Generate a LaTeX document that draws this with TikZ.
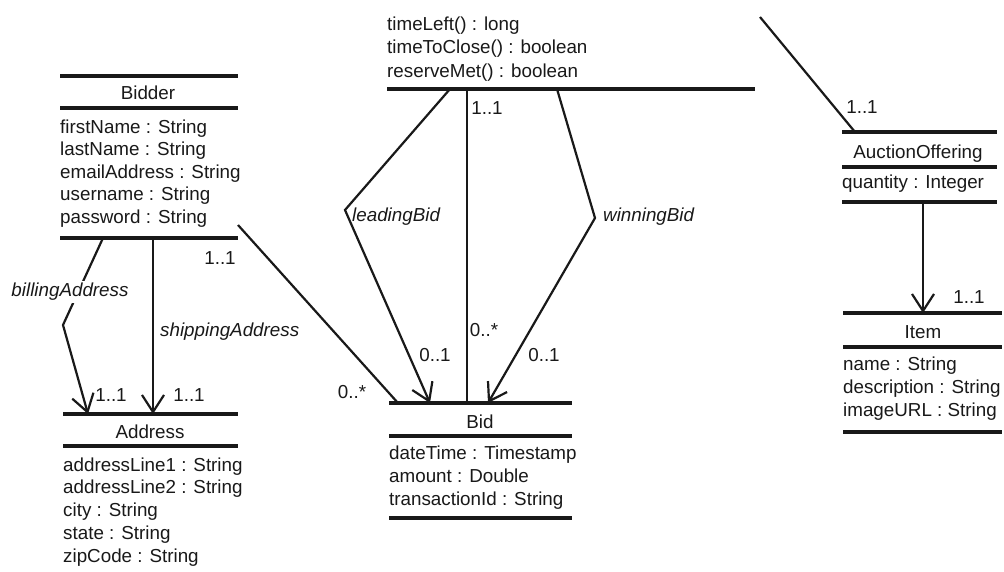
\documentclass[tikz,border=0pt]{standalone}
\usepackage{fontspec}
\setmainfont{Liberation Sans}
\usetikzlibrary{arrows.meta}
\newcommand\umlfont{\fontsize{18.8}{22}\selectfont}
\begin{document}
\begin{tikzpicture}[x=1pt,y=-1pt,
  bar/.style={line width=3.2pt,color=black!90},
  assoc/.style={line width=2.2pt,color=black!90,line join=miter},
  nav/.style={assoc,-{Straight Barb[length=17pt,width=22pt]}},
  txt/.style={inner sep=0pt,font=\umlfont,text=black!90},
  attr/.style={txt,anchor=base west},
  cname/.style={txt,anchor=base},
  role/.style={txt,font=\umlfont\itshape},
  mult/.style={txt}]
\fill[white] (0,0) rectangle (1004,571);
\useasboundingbox (0,0) rectangle (1004,571);

% ---- Auction (operations compartment) ----
\node[attr] (opA) at (387,30) {timeLeft() : long};
\node[attr] (opB) at (387,53.5) {timeToClose() : boolean};
\node[attr] (opC) at (387,77) {reserveMet() : boolean};
\coordinate (auL) at (387,89);
\coordinate (auR) at (755,89);
\draw[bar] (auL) -- (auR);

% ---- Bidder ----
\coordinate (bdT1) at (60,76);  \coordinate (bdT2) at (238,76);
\coordinate (bdM1) at (60,108); \coordinate (bdM2) at (238,108);
\coordinate (bdB1) at (60,238); \coordinate (bdB2) at (238,238);
\draw[bar] (bdT1) -- (bdT2);
\draw[bar] (bdM1) -- (bdM2);
\draw[bar] (bdB1) -- (bdB2);
\node[cname] (bidder) at (148,99) {Bidder};
\node[attr] (bd1) at (60,133) {firstName : String};
\node[attr] (bd2) at (60,155.5) {lastName : String};
\node[attr] (bd3) at (60,178) {emailAddress : String};
\node[attr] (bd4) at (60,200.5) {username : String};
\node[attr] (bd5) at (60,223) {password : String};

% ---- Address ----
\coordinate (adT1) at (63,414); \coordinate (adT2) at (238,414);
\coordinate (adM1) at (63,446); \coordinate (adM2) at (238,446);
\draw[bar] (adT1) -- (adT2);
\draw[bar] (adM1) -- (adM2);
\node[cname] (address) at (150,438) {Address};
\node[attr] (ad1) at (63,471) {addressLine1 : String};
\node[attr] (ad2) at (63,493.75) {addressLine2 : String};
\node[attr] (ad3) at (63,516.5) {city : String};
\node[attr] (ad4) at (63,539.25) {state : String};
\node[attr] (ad5) at (63,562) {zipCode : String};

% ---- Bid ----
\coordinate (biT1) at (389,403); \coordinate (biT2) at (572,403);
\coordinate (biM1) at (389,436); \coordinate (biM2) at (572,436);
\coordinate (biB1) at (389,518); \coordinate (biB2) at (572,518);
\draw[bar] (biT1) -- (biT2);
\draw[bar] (biM1) -- (biM2);
\draw[bar] (biB1) -- (biB2);
\node[cname] (bid) at (480,428) {Bid};
\node[attr] (bi1) at (389,459) {dateTime : Timestamp};
\node[attr] (bi2) at (389,482) {amount : Double};
\node[attr] (bi3) at (389,505) {transactionId : String};

% ---- AuctionOffering ----
\coordinate (aoT1) at (842,132); \coordinate (aoT2) at (997,132);
\coordinate (aoM1) at (842,167); \coordinate (aoM2) at (997,167);
\coordinate (aoB1) at (842,202); \coordinate (aoB2) at (997,202);
\draw[bar] (aoT1) -- (aoT2);
\draw[bar] (aoM1) -- (aoM2);
\draw[bar] (aoB1) -- (aoB2);
\node[cname] (offering) at (918,158) {AuctionOffering};
\node[attr] (ao1) at (842,188) {quantity : Integer};

% ---- Item ----
\coordinate (itT1) at (843,313); \coordinate (itT2) at (1002,313);
\coordinate (itM1) at (843,347); \coordinate (itM2) at (1002,347);
\coordinate (itB1) at (843,432); \coordinate (itB2) at (1002,432);
\draw[bar] (itT1) -- (itT2);
\draw[bar] (itM1) -- (itM2);
\draw[bar] (itB1) -- (itB2);
\node[cname] (item) at (923,338) {Item};
\node[attr] (it1) at (843,370) {name : String};
\node[attr] (it2) at (843,393) {description : String};
\node[attr] (it3) at (843,416) {imageURL : String};

% ---- connector end points ----
\coordinate (billS) at (103,238);  \coordinate (billE) at (88,414);
\coordinate (shipS) at (153,238);  \coordinate (shipE) at (153,414);
\coordinate (bbS)   at (238,225);  \coordinate (bbE)   at (398,403);
\coordinate (leadS) at (450,89);   \coordinate (leadE) at (430,403);
\coordinate (allS)  at (467,89);   \coordinate (allE)  at (467,403);
\coordinate (winS)  at (557,89);   \coordinate (winE)  at (488,403);
\coordinate (offS)  at (760,17);   \coordinate (offE)  at (855,132);
\coordinate (itemS) at (923,202);  \coordinate (itemE) at (923,313);

% ---- associations ----
\draw[nav] (billS) -- (63,325) -- (billE);
\node[role,fill=white,inner sep=2pt] (billL) at (70,292) {billingAddress};
\node[mult] (billM) at (111,395) {1..1};

\draw[nav] (shipS) -- (shipE);
\node[role,anchor=west] (shipL) at (160,332) {shippingAddress};
\node[mult] (shipM) at (189,395) {1..1};

\draw[assoc] (bbS) -- (bbE);
\node[mult] (bbM1) at (220,258) {1..1};
\node[mult] (bbM2) at (352,392) {0..*};

\draw[nav] (leadS) -- (345,210) -- (leadE);
\node[role,anchor=west] (leadL) at (352,217) {leadingBid};
\node[mult] (leadM) at (435,355) {0..1};

\draw[assoc] (allS) -- (allE);
\node[mult] (allM1) at (487,108) {1..1};
\node[mult] (allM2) at (484,330) {0..*};

\draw[nav] (winS) -- (595,218) -- (winE);
\node[role,anchor=west] (winL) at (603,217) {winningBid};
\node[mult] (winM) at (544,355) {0..1};

\draw[assoc] (offS) -- (offE);
\node[mult] (offM) at (862,107) {1..1};

\draw[nav] (itemS) -- (itemE);
\node[mult] (itemM) at (969,297) {1..1};
\end{tikzpicture}
\end{document}
